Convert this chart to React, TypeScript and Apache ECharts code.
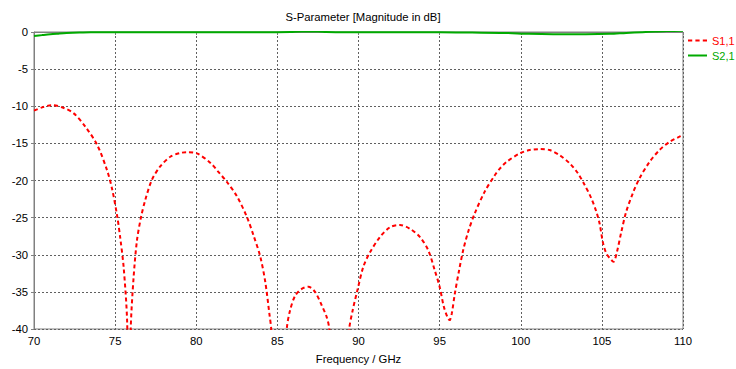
import React, { useEffect, useRef } from "react";
import * as echarts from "echarts";

const s11Freq = [
  70.0, 70.5, 71.1, 71.8, 72.45, 73.17, 73.89, 74.5, 74.81, 75.12, 75.32, 75.53, 75.74, 75.85, 75.96,
  76.14, 76.35, 76.6, 76.86, 77.27, 77.78, 78.4, 79.0, 79.43, 80.04, 80.86, 81.35, 81.89, 82.5, 83.12, 83.53,
  83.94, 84.25, 84.51, 84.62, 85.1, 85.58, 85.78, 86.1, 86.5, 86.91, 87.32, 87.73, 88.04, 88.2, 88.8,
  89.43, 89.64, 89.93, 90.3, 90.7, 91.33, 91.94, 92.56, 93.17, 93.78, 94.3, 94.7, 95.0, 95.26, 95.52,
  95.62, 95.75, 95.94, 96.2, 96.45, 96.76, 97.17, 97.78, 98.4, 98.71, 99.12, 99.94, 100.55, 101.17,
  101.78, 102.4, 103.02, 103.53, 103.94, 104.35, 104.66, 104.86, 105.06, 105.27, 105.58, 105.72,
  105.93, 106.2, 106.5, 106.91, 107.32, 107.94, 108.55, 109.17, 109.78, 110.0,
];
const s11Val = [
  -10.6, -10.15, -9.85, -10.2, -10.96, -12.76, -15.2, -18.6, -21.1, -24.7, -27.8, -31.8, -39, -55, -40,
  -33.0, -28.0, -24.9, -22.6, -19.9, -18.1, -16.8, -16.3, -16.2, -16.35, -17.6, -18.8, -20.2, -22.1, -24.9, -27.4,
  -30.2, -33.6, -38.0, -40, -60, -40, -37.5, -35.5, -34.6, -34.3, -35.0, -36.8, -38.4, -40, -60,
  -40, -37.5, -34.8, -31.6, -29.7, -27.6, -26.3, -26.0, -26.5, -27.6, -29.4, -32.1, -34.3, -37.0, -38.6,
  -38.8, -37.9, -35.2, -32.1, -29.4, -26.9, -24.4, -21.5, -19.3, -18.4, -17.5, -16.35, -15.9, -15.77,
  -15.9, -16.6, -17.7, -19.05, -20.6, -22.4, -24.2, -25.8, -28.3, -29.8, -30.7, -30.95,
  -29.6, -26.9, -24.2, -21.7, -19.7, -17.5, -15.9, -14.8, -14.1, -13.9,
];

const s21Freq = [
  70, 70.5, 71, 71.5, 72, 72.8, 73.5, 75, 80, 85, 85.8, 86.5, 87.5, 88.0, 88.6, 93, 95, 97, 99,
  100.5, 102, 104, 105.5, 106.5, 107.5, 108.3, 109, 110,
];
const s21Val = [
  -0.55, -0.42, -0.3, -0.22, -0.15, -0.08, -0.04, -0.03, -0.02, -0.02, 0.0, 0.06, 0.06, 0.0, -0.02,
  -0.03, -0.05, -0.08, -0.12, -0.25, -0.3, -0.3, -0.25, -0.12, -0.02, 0.06, 0.12, 0.16,
];

const xTicks = [70, 75, 80, 85, 90, 95, 100, 105, 110];
const yTicks = [-40, -35, -30, -25, -20, -15, -10, -5, 0];

const FONT = "Liberation Sans";
const FS = 11.3;

export default function App() {
  const ref = useRef<HTMLDivElement>(null);
  useEffect(() => {
    if (!ref.current) return;
    const chart = echarts.init(ref.current, undefined, { renderer: "svg" });
    const s11 = s11Freq.map((f, i) => [f, s11Val[i]]);
    const s21 = s21Freq.map((f, i) => [f, s21Val[i]]);
    chart.setOption({
      animation: false,
      backgroundColor: "#ffffff",
      textStyle: { fontFamily: FONT },
      title: {
        text: "S-Parameter [Magnitude in dB]",
        left: 358,
        textAlign: "center",
        top: 6,
        textStyle: { fontSize: FS, fontWeight: "normal", color: "#000", fontFamily: FONT },
      },
      legend: {
        orient: "vertical",
        left: 688,
        top: 35,
        itemWidth: 19,
        itemHeight: 2,
        itemGap: 4,
        padding: 0,
        symbolKeepAspect: false,
        textStyle: { fontSize: 11, fontFamily: FONT },
        data: [
          {
            name: "S1,1",
            icon: "path://M0,0h4v2h-4z M7,0h4v2h-4z M14,0h4v2h-4z",
            itemStyle: { color: "#ff0000" },
            textStyle: { color: "#ff0000" },
          },
          {
            name: "S2,1",
            icon: "path://M0,0h18v2h-18z",
            itemStyle: { color: "#00aa00" },
            textStyle: { color: "#00a800" },
          },
        ],
      },
      grid: {
        left: 34,
        right: 53,
        top: 32,
        bottom: 40,
        show: true,
        borderColor: "#808080",
        borderWidth: 1,
      },
      xAxis: {
        type: "value",
        min: xTicks[0],
        max: xTicks[xTicks.length - 1],
        interval: 5,
        name: "Frequency / GHz",
        nameLocation: "middle",
        nameGap: 24,
        nameTextStyle: { fontSize: FS, color: "#000", fontFamily: FONT },
        axisLine: { show: true, lineStyle: { color: "#808080" } },
        axisTick: { show: true, length: 3, lineStyle: { color: "#808080" } },
        axisLabel: { fontSize: FS, color: "#000", margin: 6, fontFamily: FONT },
        splitLine: { show: true, lineStyle: { color: "#606060", type: [2, 2], width: 1 } },
      },
      yAxis: {
        type: "value",
        min: yTicks[0],
        max: yTicks[yTicks.length - 1],
        interval: 5,
        axisLine: { show: true, lineStyle: { color: "#808080" } },
        axisTick: { show: true, length: 3, lineStyle: { color: "#808080" } },
        axisLabel: { fontSize: FS, color: "#000", margin: 6, fontFamily: FONT },
        splitLine: { show: true, lineStyle: { color: "#606060", type: [2, 2], width: 1 } },
      },
      series: [
        {
          name: "S1,1",
          type: "line",
          data: s11,
          symbol: "none",
          smooth: 0.3,
          clip: true,
          lineStyle: { color: "#ff0000", width: 2, type: [4, 3] },
          itemStyle: { color: "#ff0000" },
          z: 3,
        },
        {
          name: "S2,1",
          type: "line",
          data: s21,
          symbol: "none",
          smooth: 0.3,
          clip: true,
          lineStyle: { color: "#00aa00", width: 2 },
          itemStyle: { color: "#00aa00" },
          z: 4,
        },
      ],
    });
    return () => chart.dispose();
  }, []);
  return (
    <div
      ref={ref}
      style={{ position: "absolute", left: 0, top: 0, width: 736, height: 369 }}
    />
  );
}
